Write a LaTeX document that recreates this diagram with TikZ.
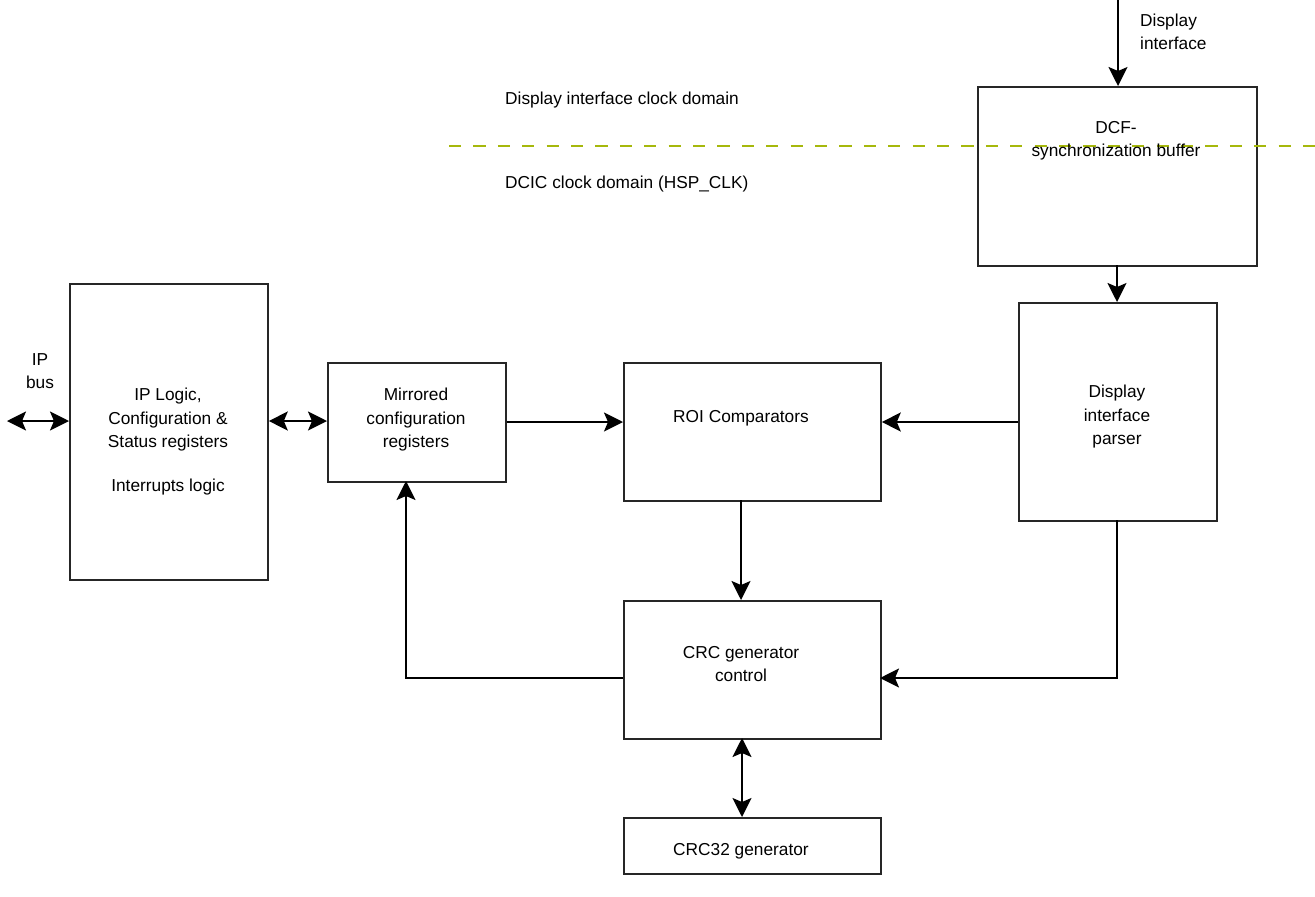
\documentclass[tikz,border=0pt]{standalone}
\usepackage{fontspec}
\setmainfont{Liberation Sans}
\usetikzlibrary{arrows.meta}
\definecolor{domline}{HTML}{A6B80C}
\begin{document}
\begin{tikzpicture}[x=1pt,y=-1pt,
  box/.style={draw=black!85,line width=1.8pt,inner sep=0pt,anchor=north west},
  txt/.style={align=center,font=\fontsize{17.3}{23.5}\selectfont,inner sep=0pt},
  ltxt/.style={align=left,font=\fontsize{17.3}{23.5}\selectfont,inner sep=0pt,anchor=west},
  conn/.style={line width=1.8pt,-{Stealth[length=19pt,width=19pt,inset=4pt]}},
  bconn/.style={line width=1.8pt,{Stealth[length=19pt,width=19pt,inset=4pt]}-{Stealth[length=19pt,width=19pt,inset=4pt]}}]
\useasboundingbox (0,0) rectangle (1315,897);
% boxes
\node[box,minimum width=198pt,minimum height=296pt] (ip) at (69,283) {};
\node[box,minimum width=178pt,minimum height=119pt] (mir) at (327,362) {};
\node[box,minimum width=257pt,minimum height=138pt] (roi) at (623,362) {};
\node[box,minimum width=198pt,minimum height=218pt] (par) at (1018,302) {};
\node[box,minimum width=279pt,minimum height=179pt] (dcf) at (977,86) {};
\node[box,minimum width=257pt,minimum height=138pt] (crc) at (623,600) {};
\node[box,minimum width=257pt,minimum height=56pt] (c32) at (623,817) {};
% domain line
\draw[domline,line width=2.6pt,dash pattern=on 12.2pt off 12.2pt] (449,146) -- (1315,146);
% texts
\node[txt] (tip) at (168,420) {IP Logic,\\Configuration \&\\Status registers};
\node[txt] (tint) at (168,487) {Interrupts logic};
\node[txt] (tmir) at (416,420) {Mirrored\\configuration\\registers};
\node[txt] (troi) at (741,418) {ROI Comparators};
\node[txt] (tpar) at (1117,417) {Display\\interface\\parser};
\node[txt] (tdcf) at (1116,141) {DCF-\\synchronization buffer};
\node[txt] (tcrc) at (741,664) {CRC generator\\control};
\node[txt] (tc32) at (741,851) {CRC32 generator};
\node[txt] (tbus) at (40,371) {IP\\bus};
\node[ltxt] (tdi) at (1140,32) {Display\\interface};
\node[ltxt] (tdom1) at (505,100) {Display interface clock domain};
\node[ltxt] (tdom2) at (505,184) {DCIC clock domain (HSP\_CLK)};
% connectors
\coordinate (busend) at (7,421);
\coordinate (ditop) at (1118,0);
\draw[bconn] (busend) -- (ip.west |- busend);
\draw[bconn] (ip.east |- busend) -- (mir.west |- busend);
\draw[conn] (ditop) -- (ditop |- dcf.north);
\draw[conn] (1117,265) -- (1117,302);
\draw[conn] (mir.east |- 0,422) -- (roi.west |- 0,422);
\draw[conn] (par.west |- 0,422) -- (roi.east |- 0,422);
\draw[conn] (741,500) -- (741,600);
\draw[conn] (1117,520) -- (1117,678) -- (880,678);
\draw[conn] (623,678) -- (406,678) -- (406,481);
\draw[bconn] (742,738) -- (742,817);
\end{tikzpicture}
\end{document}
